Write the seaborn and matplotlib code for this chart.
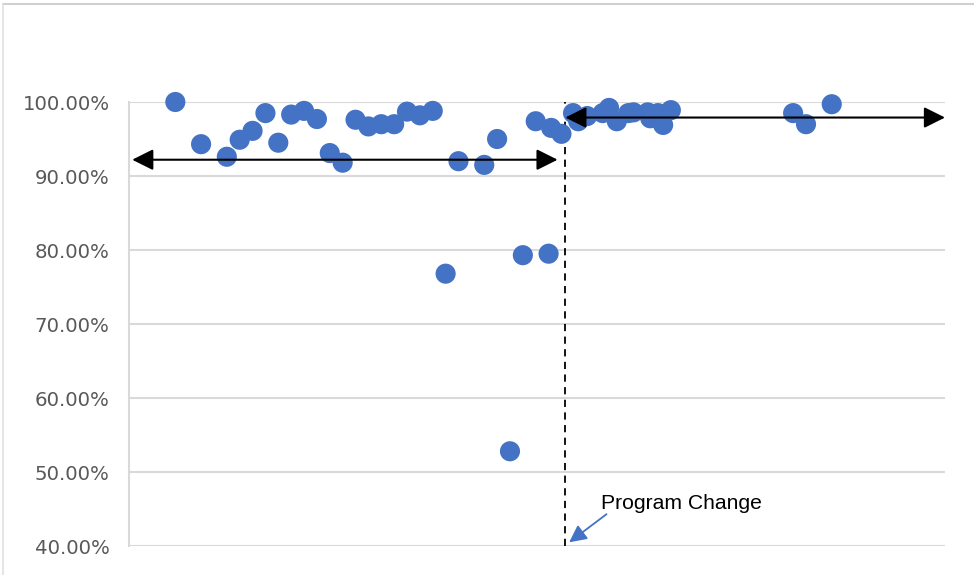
import numpy as np
import pandas as pd
import matplotlib.pyplot as plt
import matplotlib.ticker as mtick
from matplotlib.lines import Line2D
import seaborn as sns

# period index vs completion rate
period = [0, 2, 4, 5, 6, 7, 8, 9, 10, 11, 12, 13, 14, 15, 16, 17, 18, 19, 20,
          21, 22, 24, 25, 26, 27, 28, 29, 29.2, 30,
          30.9, 31.3, 32.0, 33.2, 33.7, 34.3, 35.2, 35.6, 36.7, 36.9, 37.5,
          37.9, 38.5, 48.0, 49.0, 51.0]
rate = [1.000, 0.943, 0.926, 0.949, 0.961, 0.985, 0.945, 0.983, 0.988, 0.977,
        0.931, 0.918, 0.976, 0.967, 0.970, 0.970, 0.987, 0.982, 0.988,
        0.768, 0.920, 0.915, 0.950, 0.528, 0.793, 0.974, 0.795, 0.965, 0.957,
        0.985, 0.974, 0.981, 0.985, 0.992, 0.974, 0.985, 0.986, 0.986, 0.978,
        0.985, 0.969, 0.989, 0.985, 0.970, 0.997]

change_at = 30.3
before_avg = 0.922
after_avg = 0.979
yticks = [0.4, 0.5, 0.6, 0.7, 0.8, 0.9, 1.0]

df = pd.DataFrame({"period": period, "rate": rate})

sns.set_style("white")
fig = plt.figure(figsize=(9.74, 5.75), dpi=100)
ax = fig.add_axes([129 / 974, 29 / 575, 816 / 974, 444 / 575])

grid_c = "#D9D9D9"
for t in yticks:
    ax.axhline(t, color=grid_c, lw=1.5, zorder=0)

sns.scatterplot(data=df, x="period", y="rate", color="#4472C4", s=210,
                edgecolor="none", ax=ax, zorder=3, clip_on=False)

ax.set_xlim(-3.6, 59.8)
ax.set_ylim(0.4, 1.0)
ax.set_yticks(yticks)
ax.yaxis.set_major_formatter(mtick.PercentFormatter(1.0, decimals=2))
ax.tick_params(axis="y", length=0, pad=14, labelsize=14.2, labelcolor="#595959")
ax.set_xticks([])
ax.set_xlabel("")
ax.set_ylabel("")
for side in ["top", "right", "bottom"]:
    ax.spines[side].set_visible(False)
ax.spines["left"].set_color(grid_c)
ax.spines["left"].set_linewidth(1.5)

# program change marker
ax.plot([change_at, change_at], [0.4, 1.0], color="black", lw=1.3,
        ls=(0, (4, 3)), zorder=2)

# average arrows before / after
ax.annotate("", xy=(-3.35, before_avg), xytext=(29.7, before_avg),
            arrowprops=dict(arrowstyle="<|-|>", color="black", lw=1.5,
                            mutation_scale=32, shrinkA=0, shrinkB=0), zorder=4)
ax.annotate("", xy=(change_at, after_avg), xytext=(59.8, after_avg),
            arrowprops=dict(arrowstyle="<|-|>", color="black", lw=1.5,
                            mutation_scale=32, shrinkA=0, shrinkB=0), zorder=4,
            annotation_clip=False)

ax.annotate("", xy=(30.6, 0.405), xytext=(33.5, 0.443),
            arrowprops=dict(arrowstyle="-|>", color="#4472C4", lw=1.3,
                            mutation_scale=26, shrinkA=0, shrinkB=0))
ax.text(33.1, 0.458, "Program Change", fontsize=15.2, family="Liberation Sans",
        color="black", va="center", ha="left")

# outer chart frame
fig.add_artist(Line2D([3 / 974, 1], [1 - 4 / 575, 1 - 4 / 575], color="#D0D0D0", lw=1.5))
fig.add_artist(Line2D([3 / 974, 3 / 974], [0, 1 - 4 / 575], color="#E0E0E0", lw=1.2))

fig.savefig("out.png", dpi=100)
